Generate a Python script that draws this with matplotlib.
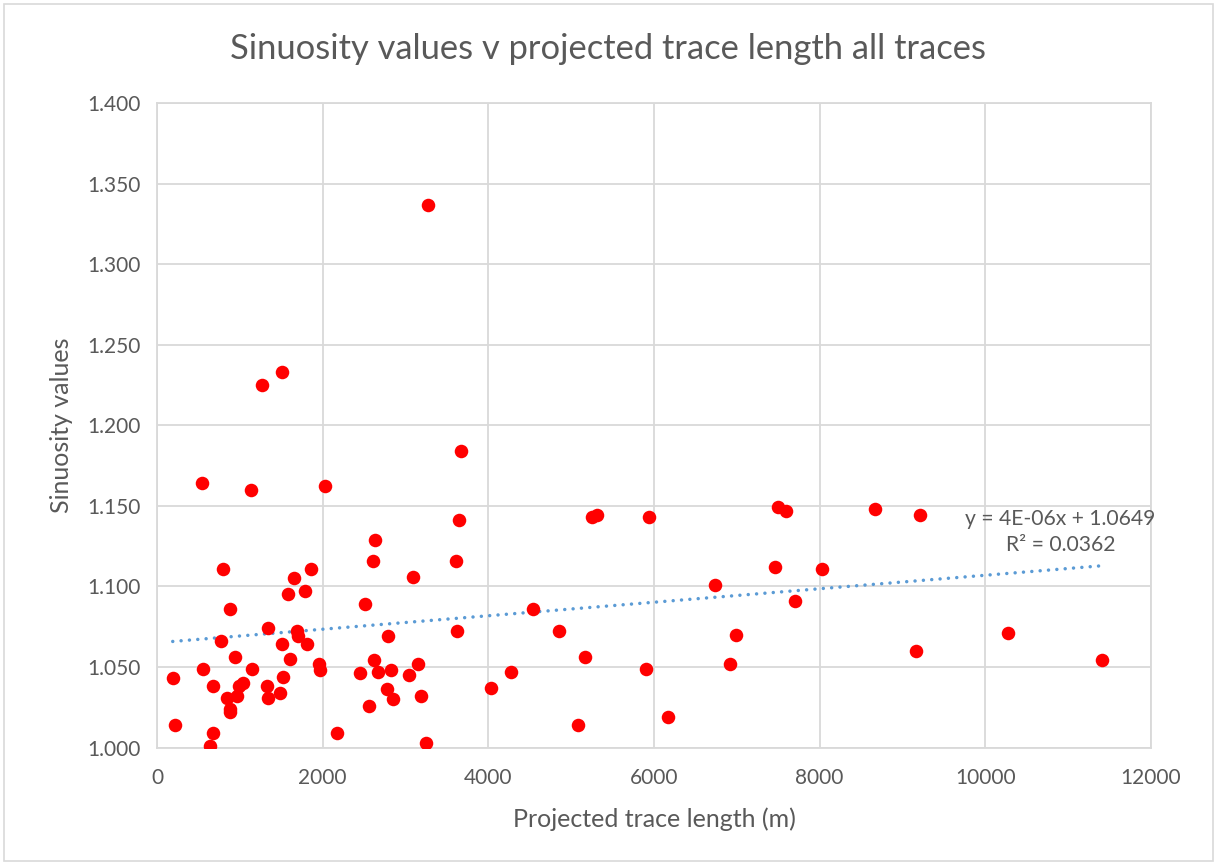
import numpy as np
import matplotlib.pyplot as plt
from matplotlib.patches import Rectangle

plt.rcParams['font.family'] = ['Lato', 'DejaVu Sans']

# projected trace length (m) and sinuosity
trace_length = [
    190, 217, 640, 680, 552, 680, 793, 881, 769, 938,
    1147, 841, 885, 885, 962, 986, 1042, 1336, 1324, 1336,
    1485, 1524, 1605, 1512, 1654, 1578, 1786, 1862, 1686, 1698,
    1814, 1955, 1967, 2176, 2454, 2507, 2603, 2635, 2619, 2664,
    2792, 2821, 2772, 2852, 2555, 3038, 3147, 3094, 3190, 3247,
    3609, 3642, 3617, 4035, 547, 1138, 1271, 1512, 2028, 3666,
    3275, 4277, 4535, 4849, 5170, 5085, 5247, 5315, 5935, 5899,
    6168, 6735, 6989, 6916, 7461, 7499, 7592, 7701, 8666, 9209,
    8026, 9161, 10272, 11406,
]
sinuosity = [
    1.043, 1.014, 1.001, 1.009, 1.049, 1.038, 1.111, 1.086, 1.066, 1.056,
    1.049, 1.031, 1.024, 1.022, 1.032, 1.038, 1.040, 1.074, 1.038, 1.031,
    1.034, 1.044, 1.055, 1.064, 1.105, 1.095, 1.097, 1.111, 1.072, 1.069,
    1.064, 1.052, 1.048, 1.009, 1.046, 1.089, 1.116, 1.129, 1.054, 1.047,
    1.069, 1.048, 1.036, 1.030, 1.026, 1.045, 1.052, 1.106, 1.032, 1.003,
    1.116, 1.141, 1.072, 1.037, 1.164, 1.160, 1.225, 1.233, 1.162, 1.184,
    1.337, 1.047, 1.086, 1.072, 1.056, 1.014, 1.143, 1.144, 1.143, 1.049,
    1.019, 1.101, 1.070, 1.052, 1.112, 1.149, 1.147, 1.091, 1.148, 1.144,
    1.111, 1.060, 1.071, 1.054,
]

x = np.array(trace_length)
y = np.array(sinuosity)

grey = '#595959'
grid_c = '#D9D9D9'

fig = plt.figure(figsize=(12.17, 8.65), dpi=100)
ax = fig.add_axes([157 / 1217, 1 - 747.5 / 865, 994 / 1217, 644.5 / 865])

# outer chart border
fig.patches.append(Rectangle((4 / 1217, 4 / 865), 1209 / 1217, 857 / 865,
                             transform=fig.transFigure, fill=False,
                             edgecolor=grid_c, linewidth=1.2))

ax.scatter(x, y, s=95, color='#FF0000', zorder=3, linewidths=0)

# linear trendline
slope, intercept = np.polyfit(x, y, 1)
xt = np.array([x.min(), x.max()])
ax.plot(xt, slope * xt + intercept, color='#5B9BD5', lw=2.5,
        linestyle=(0, (0.01, 2.4)), dash_capstyle='round', zorder=2)

ax.text(0.909, 0.334, 'y = 4E-06x + 1.0649\nR² = 0.0362', transform=ax.transAxes,
        ha='center', va='center', fontsize=15.2, color=grey, linespacing=1.35)

ax.set_xlim(0, 12000)
ax.set_ylim(1.0, 1.4)
ax.set_xticks(np.arange(0, 12001, 2000))
ax.set_yticks(np.arange(1.0, 1.401, 0.05))
ax.yaxis.set_major_formatter(plt.FuncFormatter(lambda v, p: f'{v:.3f}'))
ax.grid(True, color=grid_c, linewidth=1.3)
ax.set_axisbelow(True)
for sp in ax.spines.values():
    sp.set_color(grid_c)
    sp.set_linewidth(1.3)
ax.tick_params(length=0, labelsize=15, colors=grey, pad=12)
ax.tick_params(axis='x', pad=15)

ax.set_xlabel('Projected trace length (m)', fontsize=18, color=grey, labelpad=14)
ax.set_ylabel('Sinuosity values', fontsize=18, color=grey, labelpad=10)
fig.text(0.5, 1 - 49 / 865, 'Sinuosity values v projected trace length all traces',
         ha='center', va='center', fontsize=24.8, color=grey)

fig.savefig('out.png', dpi=100)
